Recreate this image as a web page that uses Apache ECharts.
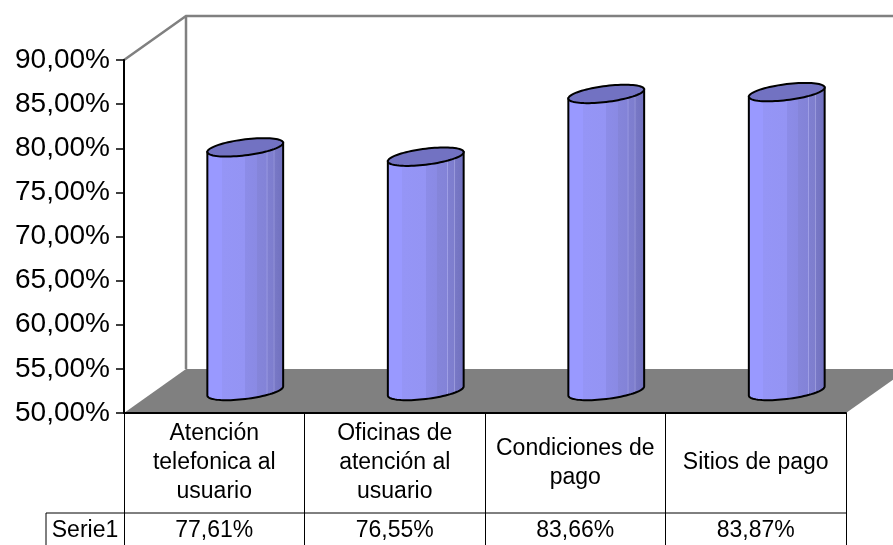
<!DOCTYPE html>
<html>
<head>
<meta charset="utf-8">
<script src="https://cdn.jsdelivr.net/npm/echarts@6/dist/echarts.min.js"></script>
<style>
  html, body { margin: 0; padding: 0; background: #fff; }
  #chart { width: 893px; height: 545px; }
</style>
</head>
<body>
<div id="chart"></div>
<script>
// data
var categories = ['Atención\ntelefonica al\nusuario', 'Oficinas de\natención al\nusuario', 'Condiciones de\npago', 'Sitios de pago'];
var values = [77.61, 76.55, 83.66, 83.87];
var seriesName = 'Serie1';
var yMin = 50, yMax = 90, yStep = 5;

function pct(v) { return v.toFixed(2).replace('.', ',') + '%'; }

// 3d look
var DX = 62, DY = -44;
var font = "'Liberation Sans', Arial, sans-serif";

var chart = echarts.init(document.getElementById('chart'), null, { renderer: 'canvas' });

function renderFrame(params, api) {
  var p = api.coord([0, yMin]);
  var q = api.coord([0, yMax]);
  var bw = api.size([1, 0])[0];
  var L = p[0] - bw / 2, R = L + bw * categories.length, B = p[1], T = q[1];
  var gray = { stroke: '#808080', lineWidth: 2.5, fill: null };
  return {
    type: 'group',
    children: [
      { type: 'polygon', shape: { points: [[L, B], [L + DX, B + DY], [R + DX, B + DY], [R, B]] }, style: { fill: '#808080' } },
      { type: 'polyline', shape: { points: [[L, T], [L + DX, T + DY], [R + DX, T + DY], [R + DX, B + DY]] }, style: gray },
      { type: 'line', shape: { x1: L + DX, y1: T + DY, x2: L + DX, y2: B + DY }, style: gray },
      // data table
      { type: 'line', shape: { x1: L - 78, y1: B + 100, x2: R, y2: B + 100 }, style: { stroke: '#000', lineWidth: 1 } },
      { type: 'line', shape: { x1: L - 78, y1: B + 100, x2: L - 78, y2: B + 160 }, style: { stroke: '#000', lineWidth: 1 } },
      { type: 'text', x: L - 39, y: B + 118, style: { text: seriesName, font: '23px ' + font, fill: '#000', align: 'center', verticalAlign: 'middle' } }
    ]
  };
}

function renderCylinder(params, api) {
  var i = api.value(0), v = api.value(1);
  var top = api.coord([i, v]);
  var base = api.coord([i, yMin]);
  var bw = api.size([1, 0])[0];
  var rx = bw * 0.21, ry = 8, k = 0.12;
  var cx = top[0] + DX / 2, yt = top[1] + DY / 2, yb = base[1] + DY / 2;
  var n = 40, t, j;
  var body = [[cx - rx, yt + k * rx]];
  for (j = 0; j <= n; j++) {
    t = Math.PI - Math.PI * j / n;
    body.push([cx + rx * Math.cos(t), yb + ry * Math.sin(t) - k * rx * Math.cos(t)]);
  }
  body.push([cx + rx, yt - k * rx]);
  var cap = [];
  for (j = 0; j < 2 * n; j++) {
    t = Math.PI * 2 * j / (2 * n);
    cap.push([cx + rx * Math.cos(t), yt + ry * Math.sin(t) - k * rx * Math.cos(t)]);
  }
  var grad = new echarts.graphic.LinearGradient(0, 0, 1, 0, [
    { offset: 0, color: '#9999FF' }, { offset: 0.2, color: '#9999FF' },
    { offset: 0.2, color: '#9595F6' }, { offset: 0.5, color: '#9494F4' },
    { offset: 0.5, color: '#8C8CE8' }, { offset: 0.65, color: '#8A8AE4' },
    { offset: 0.65, color: '#8585DA' }, { offset: 0.77, color: '#8383D8' },
    { offset: 0.78, color: '#A0A0E6' }, { offset: 0.79, color: '#7F7FD0' },
    { offset: 0.86, color: '#7E7ECE' }, { offset: 0.87, color: '#9A9ADC' },
    { offset: 0.88, color: '#7878C6' }, { offset: 1, color: '#7070BE' }
  ]);
  return {
    type: 'group',
    children: [
      { type: 'polygon', shape: { points: body }, style: { fill: grad, stroke: '#000', lineWidth: 2 } },
      { type: 'polygon', shape: { points: cap }, style: { fill: '#7272C2', stroke: '#000', lineWidth: 2 } }
    ]
  };
}

chart.setOption({
  animation: false,
  grid: { left: 124, right: 47, top: 60, bottom: 132, outerBoundsMode: 'none', containLabel: false },
  xAxis: [
    {
      type: 'category',
      data: categories,
      z: 5,
      axisLine: { lineStyle: { color: '#000', width: 2 } },
      axisTick: { show: true, interval: 0, length: 140, lineStyle: { color: '#000', width: 1 } },
      axisLabel: { interval: 0, margin: 50, verticalAlign: 'middle', lineHeight: 29, fontSize: 23, color: '#000', fontFamily: font },
      splitLine: { show: false }
    },
    {
      type: 'category',
      data: categories,
      position: 'bottom',
      axisLine: { show: false },
      axisTick: { show: false },
      axisLabel: {
        interval: 0, margin: 118, verticalAlign: 'middle', fontSize: 23, color: '#000', fontFamily: font,
        formatter: function(val, idx) { return pct(values[idx]); }
      },
      splitLine: { show: false }
    }
  ],
  yAxis: {
    type: 'value',
    min: yMin, max: yMax, interval: yStep,
    z: 5,
    axisLine: { show: true, lineStyle: { color: '#000', width: 2 } },
    axisTick: { show: true, length: 8, lineStyle: { color: '#000', width: 1.5 } },
    axisLabel: { margin: 14, fontSize: 28, color: '#000', fontFamily: font, formatter: function(v) { return pct(v); } },
    splitLine: { show: false }
  },
  series: [
    {
      type: 'custom',
      name: 'frame',
      z: 1,
      clip: false,
      silent: true,
      renderItem: renderFrame,
      data: [[0, yMin]]
    },
    {
      type: 'custom',
      name: seriesName,
      z: 2,
      clip: false,
      renderItem: renderCylinder,
      data: values.map(function(v, i) { return [i, v]; })
    }
  ]
});
</script>
</body>
</html>
